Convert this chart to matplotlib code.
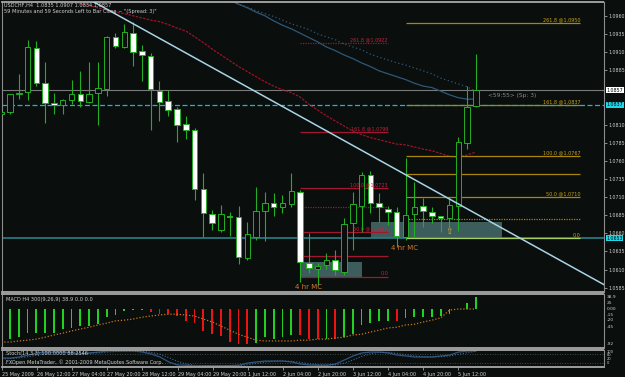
import numpy as np
import matplotlib.pyplot as plt
from matplotlib.transforms import blended_transform_factory

W, H = 625, 377

# USDCHF H4 bars, 25 May 20:00 .. 5 Jun 12:00 (2009)
opens = [1.0825, 1.0827, 1.0852, 1.0855, 1.0916, 1.0867, 1.0840, 1.0837, 1.0844, 1.0852,
         1.0841, 1.0854, 1.0859, 1.0931, 1.0917, 1.0936, 1.0912, 1.0905, 1.0856, 1.0843,
         1.0832, 1.0811, 1.0803, 1.0721, 1.0687, 1.0665, 1.0684, 1.0683, 1.0626, 1.0655,
         1.0691, 1.0702, 1.0696, 1.0700, 1.0717, 1.0619, 1.0611, 1.0616, 1.0623, 1.0607,
         1.0674, 1.0698, 1.0741, 1.0702, 1.0694, 1.0689, 1.0655, 1.0687, 1.0698, 1.0689,
         1.0684, 1.0681, 1.0698, 1.0785, 1.0835]
highs = [1.0829, 1.0852, 1.0880, 1.0927, 1.0925, 1.0896, 1.0854, 1.0845, 1.0872, 1.0884,
         1.0896, 1.0896, 1.0932, 1.0936, 1.0949, 1.0952, 1.0920, 1.0909, 1.0870, 1.0858,
         1.0834, 1.0822, 1.0805, 1.0743, 1.0692, 1.0699, 1.0689, 1.0698, 1.0676, 1.0724,
         1.0717, 1.0716, 1.0713, 1.0743, 1.0720, 1.0660, 1.0619, 1.0633, 1.0637, 1.0681,
         1.0717, 1.0745, 1.0746, 1.0716, 1.0698, 1.0696, 1.0764, 1.0731, 1.0709, 1.0696,
         1.0684, 1.0709, 1.0793, 1.0863, 1.0907]
lows = [1.0823, 1.0825, 1.0845, 1.0844, 1.0863, 1.0812, 1.0825, 1.0825, 1.0838, 1.0834,
        1.0840, 1.0810, 1.0850, 1.0916, 1.0916, 1.0891, 1.0870, 1.0803, 1.0815, 1.0822,
        1.0786, 1.0790, 1.0706, 1.0655, 1.0665, 1.0662, 1.0656, 1.0618, 1.0623, 1.0651,
        1.0649, 1.0684, 1.0688, 1.0696, 1.0593, 1.0605, 1.0589, 1.0611, 1.0602, 1.0602,
        1.0637, 1.0662, 1.0688, 1.0676, 1.0672, 1.0641, 1.0651, 1.0655, 1.0669, 1.0674,
        1.0662, 1.0669, 1.0663, 1.0776, 1.0834]
closes = [1.0827, 1.0852, 1.0853, 1.0917, 1.0867, 1.0840, 1.0837, 1.0844, 1.0852, 1.0843,
          1.0852, 1.0861, 1.0931, 1.0919, 1.0938, 1.0910, 1.0906, 1.0859, 1.0841, 1.0830,
          1.0810, 1.0803, 1.0721, 1.0688, 1.0674, 1.0687, 1.0683, 1.0627, 1.0659, 1.0691,
          1.0702, 1.0696, 1.0702, 1.0718, 1.0620, 1.0612, 1.0615, 1.0623, 1.0609, 1.0673,
          1.0700, 1.0741, 1.0702, 1.0696, 1.0689, 1.0656, 1.0685, 1.0696, 1.0691, 1.0684,
          1.0681, 1.0699, 1.0786, 1.0834, 1.0857]

# moving averages (first bar index, values)
ma_red_start = 7
ma_red = [1.0985, 1.0981, 1.0976, 1.0974, 1.0971, 1.0968, 1.0965, 1.0963, 1.0960, 1.0957,
          1.0954, 1.0952, 1.0948, 1.0943, 1.0939, 1.0931, 1.0923, 1.0914, 1.0906, 1.0898,
          1.0890, 1.0883, 1.0876, 1.0869, 1.0863, 1.0858, 1.0854, 1.0848, 1.0838, 1.0830,
          1.0822, 1.0815, 1.0808, 1.0801, 1.0796, 1.0792, 1.0789, 1.0786, 1.0783, 1.0782,
          1.0779, 1.0776, 1.0774, 1.0770, 1.0766, 1.0765, 1.0768, 1.0772]
ma_blue_start = 25
ma_blue = [1.0986, 1.0981, 1.0976, 1.0971, 1.0965, 1.0960, 1.0953, 1.0947, 1.0942, 1.0936,
           1.0930, 1.0924, 1.0917, 1.0912, 1.0906, 1.0901, 1.0895, 1.0890, 1.0884, 1.0880,
           1.0876, 1.0872, 1.0867, 1.0863, 1.0861, 1.0856, 1.0851, 1.0847, 1.0845, 1.0845]
ma_dot_start = 26
ma_dot = [1.0981, 1.0976, 1.0972, 1.0967, 1.0963, 1.0959, 1.0954, 1.0949, 1.0945, 1.0941,
          1.0935, 1.0931, 1.0927, 1.0921, 1.0917, 1.0913, 1.0907, 1.0903, 1.0899, 1.0895,
          1.0892, 1.0888, 1.0884, 1.0880, 1.0874, 1.0870, 1.0866, 1.0862, 1.0856]

macd_hist = [-89, -81, -76, -65, -65, -65, -65, -54, -51, -46,
             -46, -41, -22, -16, -5, -3, -2, -8, -13, -14,
             -19, -32, -38, -59, -68, -73, -89, -95, -95, -92,
             -76, -81, -76, -70, -70, -81, -81, -81, -81, -76,
             -68, -43, -38, -32, -32, -32, -24, -22, -22, -22,
             -19, -14, 0, 16, 32]
macd_dir = 'g' * 17 + 'r' * 12 + 'g' * 5 + 'r' * 3 + 'g' + 'r' + 'g' * 6 + 'r' + 'g' * 9
macd_signal = [-89, -89, -86, -84, -81, -76, -70, -65, -59, -54,
               -49, -43, -38, -32, -30, -27, -22, -19, -16, -14,
               -14, -16, -19, -27, -35, -46, -57, -68, -76, -84,
               -86, -86, -86, -86, -84, -84, -81, -81, -78, -76,
               -70, -68, -62, -57, -51, -49, -43, -41, -35, -30,
               -24, -3, 0, 0, 0]

stoch_k = [53, 53, 60, 73, 87, 93, 93, 93, 87, 80,
           87, 93, 100, 100, 100, 100, 93, 80, 60, 27,
           7, 5, 0, 2, 3, 2, 3, 5, 20, 27,
           33, 33, 33, 27, 13, 7, 5, 5, 13, 40,
           67, 87, 93, 93, 87, 73, 67, 60, 60, 60,
           67, 73, 93, 100, 100]
stoch_d = [47, 50, 55, 62, 73, 84, 91, 93, 91, 87,
           85, 87, 93, 97, 100, 100, 98, 91, 78, 56,
           31, 13, 4, 2, 2, 2, 3, 3, 9, 17,
           27, 31, 33, 31, 24, 16, 8, 6, 8, 19,
           40, 65, 82, 91, 91, 84, 76, 67, 62, 60,
           62, 67, 78, 89, 98]

# chart objects
trend_bars = [10.1, 68.6]
trend_prices = [1.0982, 1.0589]

fib_levels = [0, 23.6, 50, 78.6, 100, 161.8, 261.8]
fib_labelled = [0, 50, 100, 161.8, 261.8]
red_fib = (1.0600, 1.0723, 34, 44)        # 0%, 100%, first bar, last bar
gold_fib = (1.0653, 1.07666, 46, 65.9)

boxes = [(34, 41, 1.0600, 1.0620), (42.1, 57, 1.0654, 1.0676)]

hlines_prices = [1.0857, 1.0837, 1.0653]
price_ticks = [1.0585, 1.0610, 1.0635, 1.0660, 1.0685, 1.0710, 1.0735, 1.0760,
               1.0785, 1.0810, 1.0885, 1.0910, 1.0935, 1.0960]

time_ticks = [0, 4, 8, 12, 16, 20, 24, 28, 32, 36, 40, 44, 48, 52]
time_labels = ['25 May 2009', '26 May 12:00', '27 May 04:00', '27 May 20:00',
               '28 May 12:00', '29 May 04:00', '29 May 20:00', '1 Jun 12:00',
               '2 Jun 04:00', '2 Jun 20:00', '3 Jun 12:00', '4 Jun 04:00',
               '4 Jun 20:00', '5 Jun 12:00']

macd_axis_text = ['38.9', '25', '0.00', '-15', '-20', '-45', '-92']
stoch_axis_text = ['100', '80', '20', '0']

BG = '#0a0e0d'
GREEN = '#22b022'
TXT = '#d0d0d0'
FS = 3.4


def frac(x0, y0, x1, y1):
    return [x0 / W, 1 - y1 / H, (x1 - x0) / W, (y1 - y0) / H]


def style(a):
    a.set_facecolor(BG)
    a.set_xlim(0.09, 68.58)
    for s in ('left', 'right'):
        a.spines[s].set_color('#8c8c8c')
        a.spines[s].set_linewidth(0.8)
    for s in ('top', 'bottom'):
        a.spines[s].set_color('#a8a8a8')
        a.spines[s].set_linewidth(1.3)
        a.spines[s].set_linestyle((0, (1, 1)))
    a.tick_params(axis='x', bottom=False, labelbottom=False)
    a.tick_params(axis='y', left=False, labelleft=False, right=False, labelright=False)


fig = plt.figure(figsize=(W / 100, H / 100), dpi=100, facecolor=BG)
ax = fig.add_axes(frac(2, 2, 604, 292))
ax_m = fig.add_axes(frac(2, 294, 604, 348))
ax_s = fig.add_axes(frac(2, 350, 604, 367))
for a in (ax, ax_m, ax_s):
    style(a)

# ---- main price panel
ax.set_ylim(1.0579, 1.0979)
idx = np.arange(len(opens))
o, hi, lo, c = map(np.array, (opens, highs, lows, closes))
up = c >= o

for x0, x1, p0, p1 in boxes:
    ax.add_patch(plt.Rectangle((x0, p0), x1 - x0, p1 - p0, facecolor='#3d5d5c',
                               edgecolor='none', zorder=1))

ax.axhline(hlines_prices[0], color='#7a7a7a', lw=0.8, zorder=1.5)
ax.axhline(hlines_prices[1], color='#18b8c8', lw=0.9, ls=(0, (4, 2)), zorder=1.5)
ax.axhline(hlines_prices[2], color='#2a7f86', lw=1.2, zorder=1.5)

ax.plot(np.arange(len(ma_red)) + ma_red_start, ma_red, color='#9a1428', lw=0.9,
        ls=(0, (2, 1)), zorder=2)
ax.plot(np.arange(len(ma_blue)) + ma_blue_start, ma_blue, color='#2e5878', lw=0.9, zorder=2)
ax.plot(np.arange(len(ma_dot)) + ma_dot_start, ma_dot, color='#2e5878', lw=0.9,
        ls=(0, (1, 2)), zorder=2)

ax.vlines(idx, lo, hi, color=GREEN, lw=0.8, zorder=3)
body_h = np.maximum(np.abs(c - o), 0.00004)
ax.bar(idx, body_h, bottom=np.minimum(o, c), width=0.62,
       color=[BG if u else 'white' for u in up], edgecolor=GREEN, linewidth=0.7, zorder=4)

ax.plot(trend_bars, trend_prices, color='#a8d4e6', lw=1.1, zorder=5)


def draw_fib(fib, line_col, text_col, dotted, zero_col):
    p0, p1, b0, b1 = fib
    for lvl in fib_levels:
        p = p0 + (p1 - p0) * lvl / 100
        col = zero_col if lvl == 0 else line_col
        ls = (0, (1, 1)) if lvl in dotted else '-'
        ax.hlines(p, b0, b1, color=col, lw=0.9, ls=ls, zorder=2.5)
        if lvl in fib_labelled:
            txt = '0.0' if lvl == 0 else f'{lvl:.1f} @{p:.4f}'
            ax.text(b1, p + 0.0001, txt, color=text_col, fontsize=3.5,
                    ha='right', va='bottom', zorder=6)


draw_fib(red_fib, '#a01830', '#c82040', (78.6, 261.8), '#a01830')
draw_fib(gold_fib, '#a8860c', '#c8a018', (23.6,), '#a8d060')

ax.text(35, 1.0586, '4 hr MC', color='#d07a30', fontsize=5, ha='center', va='center', zorder=6)
ax.text(45.9, 1.0640, '4 hr MC', color='#d07a30', fontsize=5, ha='center', va='center', zorder=6)
ax.text(51, 1.0662, '\u21e7', color='#d0b030', fontsize=6.5, ha='center', va='center', zorder=6)
ax.text(55.4, 1.0850, '<59:55> (Sp: 3)', color='#8a8a8a', fontsize=4.2,
        ha='left', va='center', zorder=6)

ax.yaxis.tick_right()
ax.set_yticks(price_ticks)
ax.set_yticklabels([f'{p:.4f}' for p in price_ticks])
ax.tick_params(axis='y', right=True, labelright=True, length=2, width=0.6, pad=1.0,
               color='#a0a0a0', labelcolor=TXT, labelsize=FS)

tr = blended_transform_factory(ax.transAxes, ax.transData)
for p, bg in zip(hlines_prices, ('white', '#1ed8e8', '#1ed8e8')):
    ax.text(1.004, p, f'{p:.4f}', transform=tr, fontsize=FS, color='black',
            ha='left', va='center', clip_on=False, zorder=10,
            bbox=dict(boxstyle='square,pad=0.1', facecolor=bg, edgecolor='none'))

fig.text(4 / W, 1 - 5 / H, 'USDCHF,H4  1.0835 1.0907 1.0834 1.0857',
         color=TXT, fontsize=3.6, va='center')
fig.text(4 / W, 1 - 12 / H, '59 Minutes and 59 Seconds Left to Bar Close ~ "(Spread: 3)"',
         color=TXT, fontsize=3.6, va='center')

# ---- MACD panel
ax_m.set_ylim(-105, 40.5)
ax_m.bar(idx, macd_hist, width=0.2,
         color=['#22d022' if d == 'g' else '#ee1414' for d in macd_dir], zorder=2)
ax_m.plot(idx, macd_signal, color='#c8781e', lw=0.9, ls=(0, (1, 1.5)), zorder=3)
ax_m.text(0.006, 0.9, 'MACD H4 300(9,26,9) 38.9 0.0 0.0', transform=ax_m.transAxes,
          color=TXT, fontsize=3.6, va='center')
for t, ypx in zip(macd_axis_text, (297, 303, 309, 315, 320, 327, 344)):
    fig.text(607 / W, 1 - ypx / H, t, color=TXT, fontsize=3.2, va='center')

# ---- Stochastic panel
ax_s.set_ylim(-6.7, 106.7)
ax_s.axhline(80, color='#505a5a', lw=0.6, ls=(0, (1, 2)))
ax_s.axhline(20, color='#505a5a', lw=0.6, ls=(0, (1, 2)))
ax_s.plot(idx, stoch_k, color='#2e5680', lw=0.9)
ax_s.plot(idx, stoch_d, color='#3e6890', lw=0.8, ls=(0, (1, 1.5)))
ax_s.text(0.006, 0.82, 'Stoch(14,3,3) 100.0000 88.2546', transform=ax_s.transAxes,
          color=TXT, fontsize=3.6, va='center')
ax_s.text(0.006, 0.28, 'FXOpen MetaTrader, \u00a9 2001-2009 MetaQuotes Software Corp.',
          transform=ax_s.transAxes, color=TXT, fontsize=3.6, va='center')
for t, ypx in zip(stoch_axis_text, (352, 355.5, 359, 362.5)):
    fig.text(607 / W, 1 - ypx / H, t, color=TXT, fontsize=2.6, va='center')

ax_s.set_xticks(time_ticks)
ax_s.set_xticklabels(time_labels, ha='left')
ax_s.tick_params(axis='x', bottom=True, labelbottom=True, length=2, width=0.6, pad=1.5,
                 color='#a0a0a0', labelcolor=TXT, labelsize=3.5)

fig.savefig('out.png', dpi=100, facecolor=BG)
